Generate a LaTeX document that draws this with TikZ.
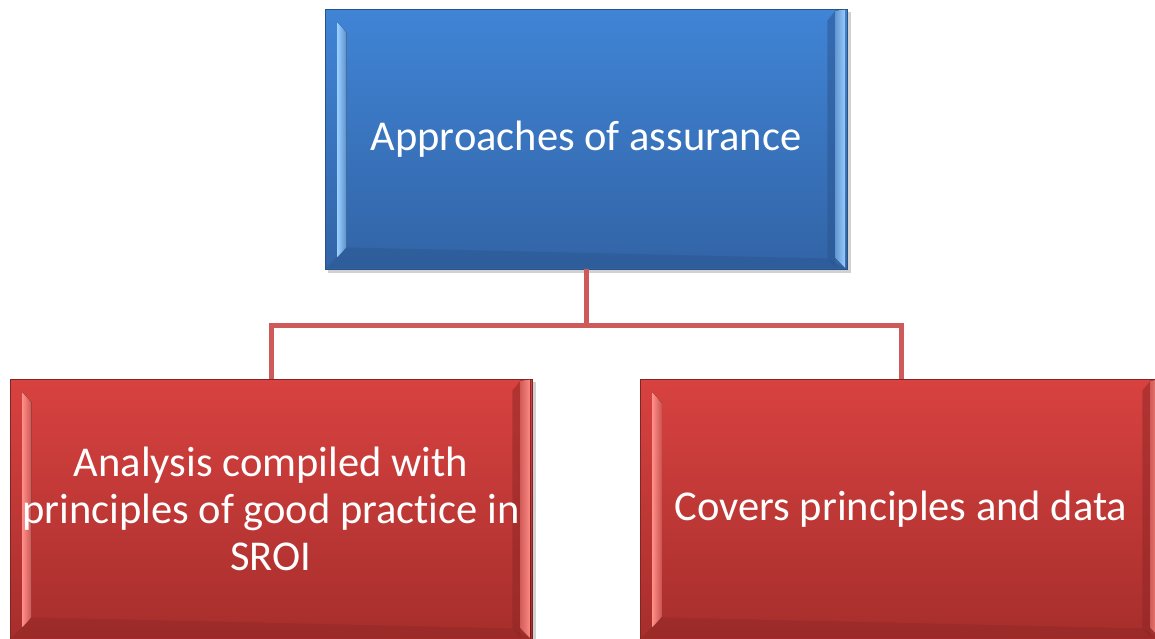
\documentclass[tikz,border=0pt]{standalone}
\usepackage{fontspec}
\setmainfont{Carlito}[Ligatures={NoCommon}]
\usetikzlibrary{calc}
\definecolor{bluetop}{RGB}{64,132,214}
\definecolor{bluebot}{RGB}{50,100,166}
\definecolor{blueedge}{RGB}{40,82,140}
\definecolor{bluelight}{RGB}{150,205,255}
\definecolor{redtop}{RGB}{216,66,64}
\definecolor{redbot}{RGB}{166,46,44}
\definecolor{rededge}{RGB}{130,36,34}
\definecolor{redlight}{RGB}{255,140,135}
\definecolor{connred}{RGB}{206,90,90}
\tikzset{
  boxbase/.style={minimum width=522pt, minimum height=260pt, inner sep=0pt,
    draw=#1edge, line width=0.8pt, top color=#1top, bottom color=#1bot},
  boxtext/.style={text=white, align=center, inner sep=0pt, font=\fontsize{42.5}{47}\selectfont},
  conn/.style={draw=connred, line width=5pt, line join=miter}
}
\newcommand{\bevelit}[2]{%
  % left light strip
  \fill[left color=#2light, right color=#2light!40!#2bot]
    ($(#1.north west)+(13,14)$) -- ($(#1.north west)+(22,24)$) --
    ($(#1.south west)+(22,-22)$) -- ($(#1.south west)+(13,-12)$) -- cycle;
  % right dark band
  \fill[#2bot!85!black, opacity=0.5]
    ($(#1.north east)+(-20,12)$) -- ($(#1.north east)+(-12,2)$) --
    ($(#1.south east)+(-12,-2)$) -- ($(#1.south east)+(-20,-11)$) -- cycle;
  % right light strip
  \fill[left color=#2light!50!#2bot, right color=#2light]
    ($(#1.north east)+(-12,2)$) -- ($(#1.north east)+(-2,1)$) --
    ($(#1.south east)+(-2,-1)$) -- ($(#1.south east)+(-12,-11)$) -- cycle;
  % bottom dark band
  \fill[#2bot!80!black, opacity=0.35]
    ($(#1.south west)+(22,-22)$) -- ($(#1.south east)+(-20,-11)$) --
    ($(#1.south east)+(-2,-1)$) -- ($(#1.south west)+(1,-1)$) -- cycle;
}
\begin{document}
\begin{tikzpicture}[x=1pt,y=-1pt]
\useasboundingbox (0,0) rectangle (1155,638);
\clip (0,0) rectangle (1155,638);
% shadows
\fill[black!18] (328,12) rectangle (851,273);
\fill[black!18] (13,382) rectangle (536,642);
\fill[black!18] (643,382) rectangle (1166,642);
% boxes
\node[boxbase=blue] (top) at (586,139) {};
\bevelit{top}{blue}
\node[boxtext] (toptext) at (top.center) {Approaches of assurance};
\node[boxbase=red] (left) at (271,509) {};
\bevelit{left}{red}
\node[boxtext] (lefttext) at (left.center) {Analysis compiled with\\principles of good practice in\\SROI};
\node[boxbase=red] (right) at (901,509) {};
\bevelit{right}{red}
\node[boxtext] (righttext) at (right.center) {Covers principles and data};
% connectors
\coordinate (j) at (586,325);
\draw[conn] (top.south) -- (j) -| (left.north);
\draw[conn] (j) -| (right.north);
\end{tikzpicture}
\end{document}
